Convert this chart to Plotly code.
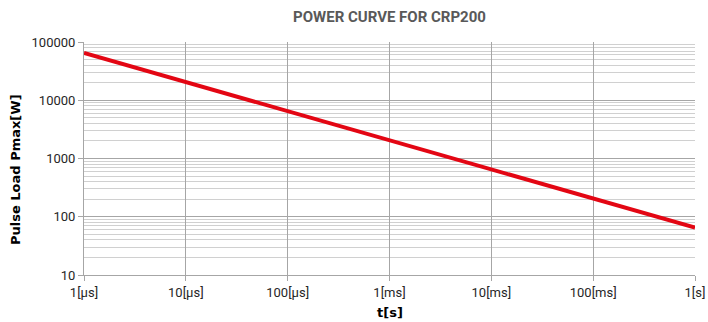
import plotly.graph_objects as go

t_seconds = [1e-6, 1e-5, 1e-4, 1e-3, 1e-2, 1e-1, 1.0]
p_max_w = [65000, 20500, 6500, 2050, 650, 205, 65]

x_tick_vals = [1e-6, 1e-5, 1e-4, 1e-3, 1e-2, 1e-1, 1.0]
x_tick_text = ["1[µs]", "10[µs]", "100[µs]", "1[ms]", "10[ms]", "100[ms]", "1[s]"]
y_tick_vals = [10, 100, 1000, 10000, 100000]
y_tick_text = ["10", "100", "1000", "10000", "100000"]

fig = go.Figure()
fig.add_trace(go.Scatter(
    x=t_seconds, y=p_max_w, mode="lines",
    line=dict(color="#e30613", width=4),
    showlegend=False, hoverinfo="skip",
))

tick_font = "Roboto, Liberation Sans, Arial, sans-serif"
title_font = "DejaVu Sans, Arial, sans-serif"
grid_major = "#a6a6a6"
grid_minor = "#d0d0d0"

L, R, T, B = 84, 695, 42, 275
W, H = 708, 322
pw, ph = R - L, B - T

fig.update_layout(
    width=W, height=H,
    margin=dict(l=L, r=W - R, t=T, b=H - B),
    paper_bgcolor="white", plot_bgcolor="white",
    font=dict(family=tick_font, size=13, color="#262626"),
    title=dict(
        text="<b>POWER CURVE FOR CRP200</b>",
        x=(L + R) / 2 / W, xanchor="center",
        y=1 - 17 / H, yanchor="middle",
        font=dict(size=15, color="#595959", family=tick_font),
    ),
    annotations=[
        dict(text="<b>Pulse Load Pmax[W]</b>", xref="paper", yref="paper",
             x=(15 - L) / pw, y=(B - 170) / ph, xanchor="center", yanchor="middle",
             textangle=-90, showarrow=False,
             font=dict(size=13, color="#000", family=title_font)),
        dict(text="<b>t[s]</b>", xref="paper", yref="paper",
             x=0.5, y=(B - 312) / ph, xanchor="center", yanchor="middle",
             showarrow=False,
             font=dict(size=13, color="#000", family=title_font)),
    ],
)

fig.update_xaxes(
    type="log", range=[-6, 0], automargin=False,
    tickvals=x_tick_vals, ticktext=x_tick_text,
    showgrid=True, gridcolor=grid_major, gridwidth=1,
    showline=True, linecolor=grid_major, linewidth=1,
    ticks="outside", ticklen=5, tickcolor=grid_major,
    tickfont=dict(size=13, color="#262626"),
    zeroline=False,
)

fig.update_yaxes(
    type="log", range=[1, 5], automargin=False,
    tickvals=y_tick_vals, ticktext=y_tick_text,
    showgrid=True, gridcolor=grid_major, gridwidth=1,
    showline=True, linecolor=grid_major, linewidth=1,
    ticks="outside", ticklen=5, tickcolor=grid_major,
    tickfont=dict(size=13, color="#262626"),
    minor=dict(dtick="D1", showgrid=True, gridcolor=grid_minor, ticks=""),
    zeroline=False,
)

fig.write_html(
    "out.html",
    config={"displayModeBar": False, "staticPlot": True},
    post_script="document.body.style.margin='0';document.body.style.overflow='hidden';",
)
